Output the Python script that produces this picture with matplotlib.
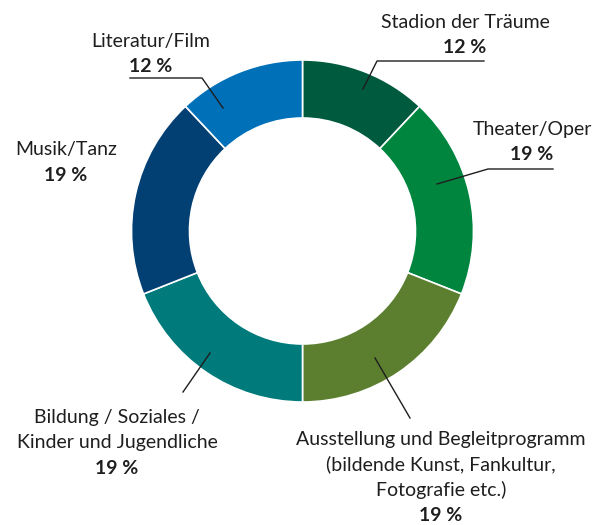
import matplotlib.pyplot as plt

# Schrift
plt.rcParams["font.family"] = ["Lato", "DejaVu Sans"]

# Daten
kategorien = [
    "Stadion der Träume",
    "Theater/Oper",
    "Ausstellung und Begleitprogramm\n(bildende Kunst, Fankultur,\nFotografie etc.)",
    "Bildung / Soziales /\nKinder und Jugendliche",
    "Musik/Tanz",
    "Literatur/Film",
]
anteile = [12, 19, 19, 19, 19, 12]
farben = ["#005a3e", "#00853f", "#5b7f2f", "#007a7b", "#023f73", "#0070b9"]

# Layout (Pixelkoordinaten): Textmitte der ersten Zeile, Leitlinie
text_pos = [(465, 22), (532, 129), (441, 439), (117, 417), (66, 150), (151, 41)]
leitlinien = [
    [(484, 61), (377, 61), (363, 89)],
    [(553, 169), (488, 169), (437, 184)],
    [(410, 418), (375, 358)],
    [(183, 392), (210, 353)],
    None,
    [(130, 78), (202, 78), (223, 108)],
]

fig = plt.figure(figsize=(6.01, 5.25), dpi=100)
ax = fig.add_axes([0, 0, 1, 1])

cx, cy, r_aussen, r_innen = 302.5, 231, 171, 113
ax.pie(anteile, colors=farben, center=(cx, cy), radius=r_aussen,
       startangle=-90, counterclock=True,
       wedgeprops=dict(width=r_aussen - r_innen, edgecolor="white", linewidth=1.2))
ax.set_xlim(0, 601)
ax.set_ylim(525, 0)
ax.set_aspect("equal")
ax.axis("off")

zeilenabstand = 25.5
for name, wert, (tx, ty), linie in zip(kategorien, anteile, text_pos, leitlinien):
    zeilen = name.split("\n")
    for i, z in enumerate(zeilen):
        ax.text(tx, ty + i * zeilenabstand, z, ha="center", va="center",
                fontsize=14, color="#1e1e1e")
    ax.text(tx, ty + len(zeilen) * zeilenabstand, f"{wert} %", ha="center",
            va="center", fontsize=14, fontweight="bold", color="#1e1e1e")
    if linie:
        xs = [p[0] for p in linie]
        ys = [p[1] for p in linie]
        ax.plot(xs, ys, color="#1e1e1e", linewidth=1)

plt.savefig("out.png", dpi=100)
